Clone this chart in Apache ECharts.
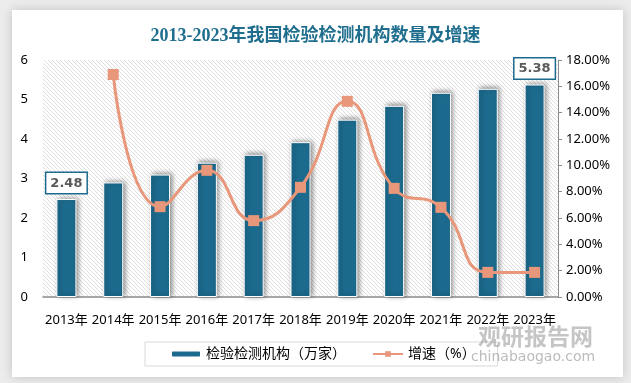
<!DOCTYPE html>
<html><head><meta charset="utf-8">
<script src="https://cdn.jsdelivr.net/npm/echarts@6/dist/echarts.min.js"></script>
<style>html,body{margin:0;padding:0;background:#ececec;}#c{width:631px;height:383px;}</style>
</head><body><div id="c"></div>
<script>
const categories = ['2013年','2014年','2015年','2016年','2017年','2018年','2019年','2020年','2021年','2022年','2023年'];
const institutions = [2.48, 2.90, 3.10, 3.40, 3.60, 3.92, 4.49, 4.84, 5.17, 5.27, 5.38];
const growthRate = [null, 16.9, 6.86, 9.62, 5.80, 8.33, 14.86, 8.25, 6.81, 1.87, 1.87];
const labeledIdx = [0, 10];
const leftTicks = {min: 0, max: 6, interval: 1};
const rightTicks = {min: 0, max: 18, interval: 2};

const pc = document.createElement('canvas');
pc.width = 4; pc.height = 4;
const pctx = pc.getContext('2d');
pctx.fillStyle = '#ffffff'; pctx.fillRect(0,0,4,4);
pctx.strokeStyle = '#dedede'; pctx.lineWidth = 1;
pctx.beginPath(); pctx.moveTo(-1,-1); pctx.lineTo(5,5); pctx.stroke();
pctx.beginPath(); pctx.moveTo(-1,3); pctx.lineTo(1,5); pctx.stroke();
pctx.beginPath(); pctx.moveTo(3,-1); pctx.lineTo(5,1); pctx.stroke();

const labelStyle = {
  show: true, position: 'top', distance: 6,
  backgroundColor: '#fff', borderColor: '#1c6b8e', borderWidth: 1.5,
  padding: [4, 4, 3, 4], color: '#595959', fontWeight: 'bold', fontSize: 13,
  fontFamily: 'DejaVu Sans'
};
const barData = institutions.map((v, i) => labeledIdx.includes(i) ? {value: v, label: labelStyle} : v);

const chart = echarts.init(document.getElementById('c'));
const font = '"Noto Sans", "Noto Sans CJK SC", sans-serif';
chart.setOption({
  backgroundColor: '#ececec',
  animation: false,
  graphic: [
    {type: 'rect', z: -10, shape: {x: 12, y: 10, width: 611, height: 367},
     style: {fill: '#fff', shadowBlur: 10, shadowColor: 'rgba(0,0,0,0.18)'}},
    {type: 'text', left: 478, top: 325, z: 100, style: {text: '观研报告网', fontSize: 23, fontWeight: 'bold', fontFamily: '"Noto Sans CJK SC"', fill: 'rgba(150,150,150,0.55)'}},
    {type: 'text', left: 471, top: 350, z: 100, style: {text: 'chinabaogao.com', fontSize: 14, fontFamily: '"DejaVu Sans"', fill: 'rgba(150,150,150,0.65)'}}
  ],
  title: {
    text: '2013-2023年我国检验检测机构数量及增速', left: 'center', top: 22,
    textStyle: {fontSize: 18, fontWeight: 'bold', color: '#1f6e8e', fontFamily: '"Liberation Serif", "Noto Sans CJK SC", serif'}
  },
  grid: {left: 43, right: 73, top: 60, bottom: 86, show: true, borderWidth: 0,
    backgroundColor: {image: pc, repeat: 'repeat'}},
  legend: {
    left: 145, top: 342, padding: [5, 22, 5, 25], itemGap: 26, itemWidth: 30, itemHeight: 7,
    borderColor: '#d9d9d9', borderWidth: 1,
    textStyle: {fontSize: 14, color: '#000', fontFamily: font},
    data: ['检验检测机构（万家）', '增速（%）']
  },
  xAxis: {
    type: 'category', data: categories,
    axisLine: {lineStyle: {color: '#8c8c8c', width: 1.5}}, axisTick: {show: false},
    axisLabel: {color: '#000', fontSize: 13, margin: 17, fontFamily: font, interval: 0}
  },
  yAxis: [
    {type: 'value', min: leftTicks.min, max: leftTicks.max, interval: leftTicks.interval,
     axisLine: {show: false}, axisTick: {show: false}, splitLine: {show: false},
     axisLabel: {color: '#000', fontSize: 13, margin: 15, fontFamily: font}},
    {type: 'value', min: rightTicks.min, max: rightTicks.max, interval: rightTicks.interval,
     position: 'right',
     axisLine: {show: true, lineStyle: {color: '#8c8c8c'}}, axisTick: {show: true, length: 4, lineStyle: {color: '#8c8c8c'}},
     splitLine: {show: false},
     axisLabel: {color: '#000', fontSize: 13, margin: 8, fontFamily: font, formatter: v => v.toFixed(2) + '%'}}
  ],
  series: [
    {name: '检验检测机构（万家）', type: 'bar', data: barData, barWidth: 20,
     itemStyle: {color: '#1c6b8e', borderColor: '#fff', borderWidth: 1,
       shadowColor: 'rgba(0,0,0,0.45)', shadowBlur: 5, shadowOffsetX: 2, shadowOffsetY: -1}},
    {name: '增速（%）', type: 'line', yAxisIndex: 1, data: growthRate, smooth: 0.5,
     symbol: 'rect', symbolSize: 11, z: 5,
     lineStyle: {color: '#e8977a', width: 3}, itemStyle: {color: '#e8977a'}}
  ]
});
</script></body></html>
